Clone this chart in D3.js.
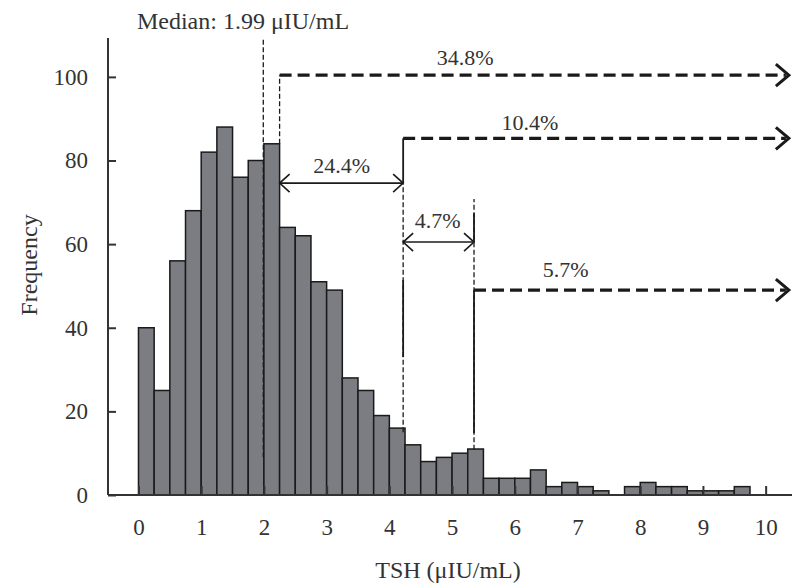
<!DOCTYPE html>
<html>
<head>
<meta charset="utf-8">
<script src="https://d3js.org/d3.v7.min.js"></script>
<style>
  body { margin: 0; background: #fff; }
  text { font-family: "Liberation Serif", "Times New Roman", serif; fill: #333; }
</style>
</head>
<body>
<script>
// histogram bins (TSH, width 0.25) and frequencies
var binStarts = [0, 0.25, 0.5, 0.75, 1, 1.25, 1.5, 1.75, 2, 2.25, 2.5, 2.75, 3, 3.25, 3.5, 3.75,
                 4, 4.25, 4.5, 4.75, 5, 5.25, 5.5, 5.75, 6, 6.25, 6.5, 6.75, 7, 7.25, 7.5, 7.75,
                 8, 8.25, 8.5, 8.75, 9, 9.25, 9.5];
var counts = [40, 25, 56, 68, 82, 88, 76, 80, 84, 64, 62, 51, 49, 28, 25, 19,
              16, 12, 8, 9, 10, 11, 4, 4, 4, 6, 2, 3, 2, 1, 0, 2,
              3, 2, 2, 1, 1, 1, 2];
var binWidth = 0.25;

var xTicks = [0, 1, 2, 3, 4, 5, 6, 7, 8, 9, 10];
var yTicks = [0, 20, 40, 60, 80, 100];

var medianValue = 1.99;
var medianLabel = "Median: 1.99 \u03bcIU/mL";

// open-ended (dashed) ranges: start, level, label, label position
var openFrom   = [2.25, 4.22, 5.35];
var openLevel  = [100.4, 85.3, 49];
var openLabels = ["34.8%", "10.4%", "5.7%"];
var openLabelX = [5.21, 6.24, 6.81];
var openLabelY = [102.8, 87.3, 52.1];
var openEnd = 10.37;

// closed ranges (double arrows)
var spanFrom   = [2.25, 4.22];
var spanTo     = [4.22, 5.35];
var spanLevel  = [74.6, 60.5];
var spanLabels = ["24.4%", "4.7%"];
var spanLabelX = [3.24, 4.77];
var spanLabelY = [77, 63.8];

// vertical guide pieces: x, from, to, solid?
var guideX     = [medianValue, 2.25, 4.22, 4.22, 4.22, 5.35, 5.35, 5.35];
var guideFrom  = [9, 84, 15, 74.6, 33, 10.8, 60.5, 14.8];
var guideTo    = [109.3, 100.4, 74.6, 85.3, 51.4, 70.8, 67.4, 49];
var guideSolid = [false, false, false, true, true, false, true, true];

var W = 797, H = 586;
var svg = d3.select("body").append("svg").attr("width", W).attr("height", H);

var x = d3.scaleLinear().domain([-0.486, 10.42]).range([108, 792]);
var y = d3.scaleLinear().domain([0, 109.3]).range([495, 38]);

// bars
var bars = svg.append("g");
counts.forEach(function(c, i) {
  if (c <= 0) return;
  bars.append("rect")
    .attr("x", x(binStarts[i]))
    .attr("y", y(c))
    .attr("width", x(binStarts[i] + binWidth) - x(binStarts[i]))
    .attr("height", y(0) - y(c))
    .attr("fill", "#7b7d82")
    .attr("stroke", "#1a1a1a")
    .attr("stroke-width", 1.5);
});

// axes
var xAxis = d3.axisBottom(x).tickValues(xTicks).tickSizeInner(-9).tickSizeOuter(0).tickPadding(24);
var yAxis = d3.axisLeft(y).tickValues(yTicks).tickSizeInner(-8).tickSizeOuter(0).tickPadding(20);

var gx = svg.append("g").attr("transform", "translate(0," + y(0) + ")").call(xAxis);
var gy = svg.append("g").attr("transform", "translate(" + x.range()[0] + ",0)").call(yAxis);
[gx, gy].forEach(function(g) {
  g.select(".domain").attr("stroke", "#333").attr("stroke-width", 2);
  g.selectAll(".tick line").attr("stroke", "#333").attr("stroke-width", 2);
  g.selectAll(".tick text").style("font-family", "Liberation Serif, serif")
    .attr("font-size", 23).attr("fill", "#333");
});
gx.select(".domain").attr("d", "M" + x.range()[0] + ",0H" + x.range()[1]);
gy.select(".domain").attr("d", "M0," + y.range()[0] + "V" + y.range()[1]);

// axis titles
svg.append("text")
  .attr("x", 448).attr("y", 578)
  .attr("text-anchor", "middle").attr("font-size", 24)
  .text("TSH (\u03bcIU/mL)");
svg.append("text")
  .attr("transform", "translate(37,265) rotate(-90)")
  .attr("text-anchor", "middle").attr("font-size", 24)
  .text("Frequency");

// median label
svg.append("text")
  .attr("x", 243).attr("y", 29)
  .attr("text-anchor", "middle").attr("font-size", 24)
  .text(medianLabel);

// vertical guides
var guides = svg.append("g");
guideX.forEach(function(gxv, i) {
  guides.append("line")
    .attr("x1", x(gxv)).attr("x2", x(gxv))
    .attr("y1", y(guideFrom[i])).attr("y2", y(guideTo[i]))
    .attr("stroke", "#1a1a1a")
    .attr("stroke-width", guideSolid[i] ? 1.8 : 1.3)
    .attr("stroke-dasharray", guideSolid[i] ? null : "5,2.5");
});

function chevron(g, tipX, tipY, dir, len, spread, width) {
  g.append("path")
    .attr("d", "M" + (tipX - dir * len) + "," + (tipY - spread) +
               "L" + tipX + "," + tipY +
               "L" + (tipX - dir * len) + "," + (tipY + spread))
    .attr("fill", "none").attr("stroke", "#1a1a1a")
    .attr("stroke-width", width).attr("stroke-linejoin", "miter");
}

// open ranges: thick dashed with arrow
var ann = svg.append("g");
openFrom.forEach(function(f, i) {
  ann.append("line")
    .attr("x1", x(f)).attr("x2", x(openEnd) - 3)
    .attr("y1", y(openLevel[i])).attr("y2", y(openLevel[i]))
    .attr("stroke", "#1a1a1a").attr("stroke-width", 3.2)
    .attr("stroke-dasharray", "12,6");
  chevron(ann, x(openEnd), y(openLevel[i]), 1, 13, 11, 3);
  ann.append("text")
    .attr("x", x(openLabelX[i])).attr("y", y(openLabelY[i]))
    .attr("text-anchor", "middle").attr("font-size", 22)
    .text(openLabels[i]);
});

// closed ranges: thin double arrows
spanFrom.forEach(function(f, i) {
  var yy = y(spanLevel[i]);
  ann.append("line")
    .attr("x1", x(f)).attr("x2", x(spanTo[i]))
    .attr("y1", yy).attr("y2", yy)
    .attr("stroke", "#1a1a1a").attr("stroke-width", 1.6);
  chevron(ann, x(f), yy, -1, 10, 9, 1.6);
  chevron(ann, x(spanTo[i]), yy, 1, 10, 9, 1.6);
  ann.append("text")
    .attr("x", x(spanLabelX[i])).attr("y", y(spanLabelY[i]))
    .attr("text-anchor", "middle").attr("font-size", 22)
    .text(spanLabels[i]);
});
</script>
</body>
</html>
